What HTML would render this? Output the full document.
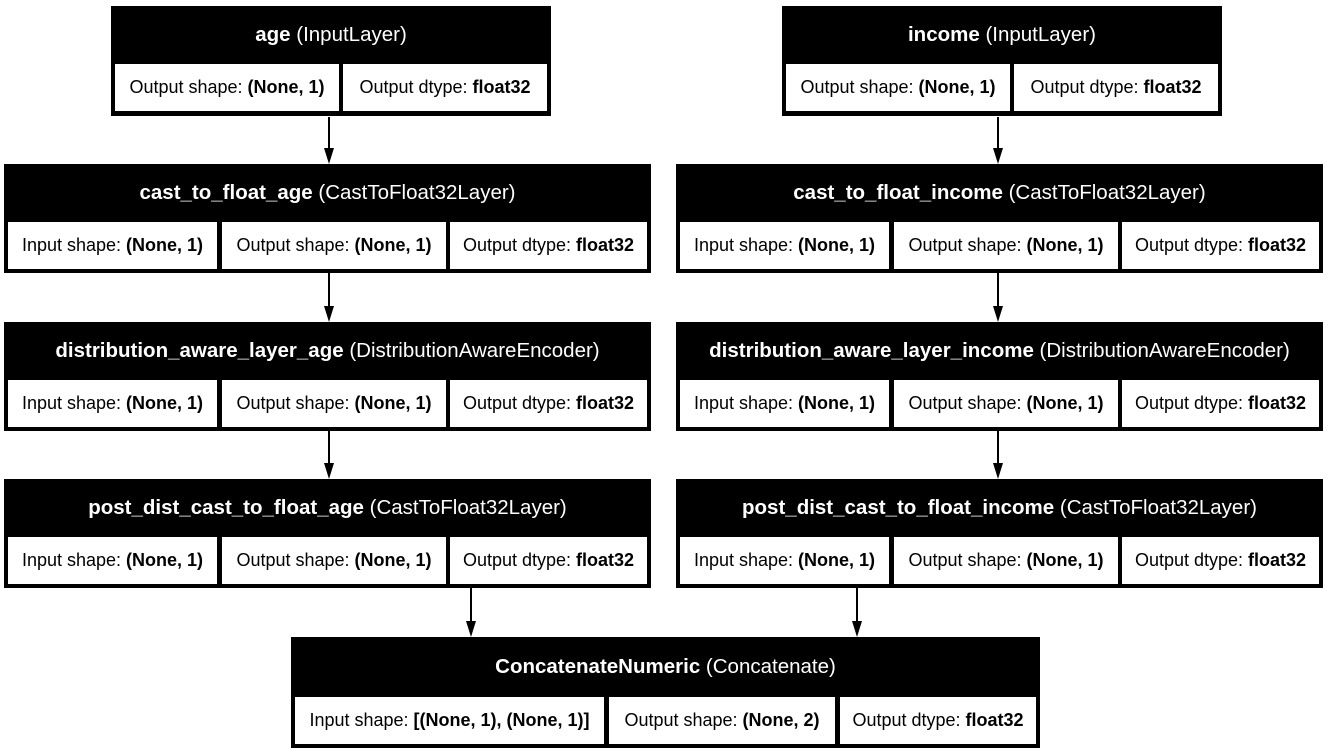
<!DOCTYPE html>
<html><head><meta charset="utf-8"><style>
body{margin:0;width:1330px;height:753px;background:#fff;position:relative;overflow:hidden;font-family:"Liberation Sans",Arial,sans-serif;}
.n{position:absolute;background:#000;}
.h{position:absolute;left:0;right:0;top:0;height:57px;line-height:57px;text-align:center;color:#fff;font-size:20.5px;white-space:nowrap;}
.c{position:absolute;background:#fff;color:#000;text-align:center;font-size:18px;white-space:nowrap;height:47px;line-height:47px;}
b{font-weight:bold;}
svg{position:absolute;left:0;top:0;}
</style></head><body>
<svg width="1330" height="753">
<g stroke="#000" stroke-width="2">
<line x1="329" y1="117" x2="329" y2="150"/>
<line x1="998" y1="117" x2="998" y2="150"/>
<line x1="329" y1="273" x2="329" y2="308"/>
<line x1="998" y1="273" x2="998" y2="308"/>
<line x1="329" y1="431" x2="329" y2="465"/>
<line x1="998" y1="431" x2="998" y2="465"/>
<line x1="471" y1="588" x2="471" y2="623"/>
<line x1="857" y1="588" x2="857" y2="623"/>
</g>
<g fill="#000">
<polygon points="324,148 334,148 329,164"/>
<polygon points="993,148 1003,148 998,164"/>
<polygon points="324,306 334,306 329,322"/>
<polygon points="993,306 1003,306 998,322"/>
<polygon points="324,463 334,463 329,479"/>
<polygon points="993,463 1003,463 998,479"/>
<polygon points="466,621 476,621 471,637"/>
<polygon points="852,621 862,621 857,637"/>
</g>
</svg>

<div class="n" style="left:111px;top:6px;width:440px;height:110px;">
<div class="h"><b>age</b> (InputLayer)</div>
<div class="c" style="left:4px;top:58px;width:224px;">Output shape: <b>(None, 1)</b></div>
<div class="c" style="left:232px;top:58px;width:204px;">Output dtype: <b>float32</b></div>
</div>
<div class="n" style="left:782px;top:6px;width:440px;height:110px;">
<div class="h"><b>income</b> (InputLayer)</div>
<div class="c" style="left:4px;top:58px;width:224px;">Output shape: <b>(None, 1)</b></div>
<div class="c" style="left:232px;top:58px;width:204px;">Output dtype: <b>float32</b></div>
</div>

<div class="n" style="left:4px;top:164px;width:647px;height:109px;">
<div class="h"><b>cast_to_float_age</b> (CastToFloat32Layer)</div>
<div class="c" style="left:4px;top:58px;width:209px;">Input shape: <b>(None, 1)</b></div>
<div class="c" style="left:218px;top:58px;width:224px;">Output shape: <b>(None, 1)</b></div>
<div class="c" style="left:446px;top:58px;width:197px;">Output dtype: <b>float32</b></div>
</div>
<div class="n" style="left:676px;top:164px;width:647px;height:109px;">
<div class="h"><b>cast_to_float_income</b> (CastToFloat32Layer)</div>
<div class="c" style="left:4px;top:58px;width:209px;">Input shape: <b>(None, 1)</b></div>
<div class="c" style="left:218px;top:58px;width:224px;">Output shape: <b>(None, 1)</b></div>
<div class="c" style="left:446px;top:58px;width:197px;">Output dtype: <b>float32</b></div>
</div>

<div class="n" style="left:4px;top:322px;width:647px;height:109px;">
<div class="h"><b>distribution_aware_layer_age</b> (DistributionAwareEncoder)</div>
<div class="c" style="left:4px;top:58px;width:209px;">Input shape: <b>(None, 1)</b></div>
<div class="c" style="left:218px;top:58px;width:224px;">Output shape: <b>(None, 1)</b></div>
<div class="c" style="left:446px;top:58px;width:197px;">Output dtype: <b>float32</b></div>
</div>
<div class="n" style="left:676px;top:322px;width:647px;height:109px;">
<div class="h"><b>distribution_aware_layer_income</b> (DistributionAwareEncoder)</div>
<div class="c" style="left:4px;top:58px;width:209px;">Input shape: <b>(None, 1)</b></div>
<div class="c" style="left:218px;top:58px;width:224px;">Output shape: <b>(None, 1)</b></div>
<div class="c" style="left:446px;top:58px;width:197px;">Output dtype: <b>float32</b></div>
</div>

<div class="n" style="left:4px;top:479px;width:647px;height:109px;">
<div class="h"><b>post_dist_cast_to_float_age</b> (CastToFloat32Layer)</div>
<div class="c" style="left:4px;top:58px;width:209px;">Input shape: <b>(None, 1)</b></div>
<div class="c" style="left:218px;top:58px;width:224px;">Output shape: <b>(None, 1)</b></div>
<div class="c" style="left:446px;top:58px;width:197px;">Output dtype: <b>float32</b></div>
</div>
<div class="n" style="left:676px;top:479px;width:647px;height:109px;">
<div class="h"><b>post_dist_cast_to_float_income</b> (CastToFloat32Layer)</div>
<div class="c" style="left:4px;top:58px;width:209px;">Input shape: <b>(None, 1)</b></div>
<div class="c" style="left:218px;top:58px;width:224px;">Output shape: <b>(None, 1)</b></div>
<div class="c" style="left:446px;top:58px;width:197px;">Output dtype: <b>float32</b></div>
</div>

<div class="n" style="left:291px;top:637px;width:749px;height:111px;">
<div class="h" style="height:60px;line-height:60px;"><b>ConcatenateNumeric</b> (Concatenate)</div>
<div class="c" style="left:4px;top:60px;width:309px;">Input shape: <b>[(None, 1), (None, 1)]</b></div>
<div class="c" style="left:318px;top:60px;width:226px;">Output shape: <b>(None, 2)</b></div>
<div class="c" style="left:549px;top:60px;width:196px;">Output dtype: <b>float32</b></div>
</div>
</body></html>
